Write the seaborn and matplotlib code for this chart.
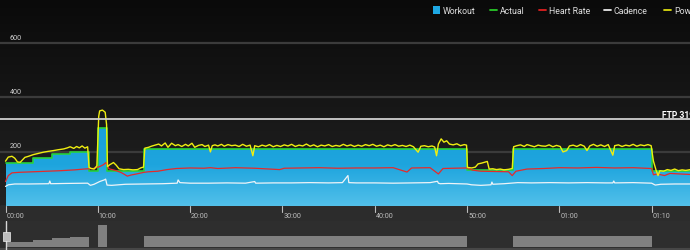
import numpy as np
import pandas as pd
import matplotlib
matplotlib.use("Agg")
import matplotlib.pyplot as plt
from matplotlib.colors import LinearSegmentedColormap
from matplotlib.patches import Rectangle
from matplotlib.lines import Line2D
import seaborn as sns

# ---------------- data ----------------
workout_start_min = [0, 3, 5, 7, 9, 10, 11, 15, 50, 55, 70]
workout_watts = [160, 176, 191, 200, 130, 287, 130, 208, 133, 208, 130]
ride_end_min = 74.2
ftp_watts = 319

power_t = [0, 0.3, 0.7, 1.0, 1.3, 1.6, 1.9, 2.1, 2.5, 3.0, 3.5, 4.1, 4.6, 5.2, 5.7, 6.3, 6.7, 7.0,
           7.4, 7.7, 8.0, 8.3, 8.6, 8.9, 9.05, 9.3, 9.6, 9.9, 10.1, 10.2, 10.5, 10.8, 10.95, 11.05,
           11.3, 11.7, 12.0, 12.3, 12.8, 13.3, 13.8, 14.3, 14.7, 14.95, 15.1, 15.5, 15.8, 16.2, 16.6,
           16.9, 17.3, 17.6, 18.0, 18.4, 18.7, 19.1, 19.5, 19.8, 20.2, 20.5, 20.9, 21.3, 21.6, 22.0,
           22.2, 22.4, 22.7, 23.0, 23.4, 23.7, 24.1, 24.5, 24.9, 25.3, 25.7, 26.1, 26.5, 26.8, 27.0,
           27.4, 27.8, 28.2, 28.6, 29.0, 29.4, 29.8, 30.2, 30.6, 31.0, 31.4, 31.8, 32.2, 32.6, 33.0,
           33.4, 33.8, 34.2, 34.6, 35.0, 35.4, 35.8, 36.2, 36.6, 37.0, 37.4, 37.8, 38.2, 38.6, 39.0,
           39.4, 39.8, 40.2, 40.6, 41.0, 41.4, 41.8, 42.2, 42.6, 43.0, 43.4, 43.8, 44.2, 44.7, 45.0,
           45.4, 45.8, 46.2, 46.5, 46.7, 46.9, 47.2, 47.5, 47.8, 48.1, 48.5, 48.9, 49.3, 49.7, 49.95,
           50.05, 50.5, 50.9, 51.2, 51.6, 51.9, 52.2, 52.4, 52.8, 53.2, 53.6, 54.0, 54.5, 54.9, 55.05,
           55.4, 55.8, 56.2, 56.5, 56.9, 57.3, 57.7, 58.1, 58.5, 58.9, 59.3, 59.7, 60.1, 60.4, 60.8,
           61.1, 61.5, 61.9, 62.3, 62.7, 63.0, 63.3, 63.7, 64.1, 64.5, 64.9, 65.3, 65.8, 66.0, 66.4,
           66.8, 67.2, 67.6, 68.0, 68.4, 68.8, 69.2, 69.6, 69.95, 70.2, 70.5, 70.7, 70.9, 71.3, 71.7,
           72.1, 72.5, 72.9, 73.3, 73.7, 74.2]
power_w = [165, 180, 183, 176, 162, 161, 172, 179, 183, 189, 193, 198, 201, 204, 207, 210, 214, 218,
           212, 219, 214, 221, 213, 218, 142, 138, 136, 148, 330, 350, 353, 345, 300, 145,
           152, 160, 150, 137, 134, 135, 133, 134, 141, 143, 213, 216, 220, 224, 228,
           221, 232, 216, 231, 222, 226, 219, 227, 221, 231, 216, 223, 226, 219, 224,
           199, 222, 225, 221, 227, 220, 226, 222, 224, 219, 227, 220, 224, 185, 222,
           218, 224, 220, 226, 218, 223, 219, 225, 221, 227, 219, 224, 221, 228, 220,
           225, 218, 224, 221, 226, 219, 223, 220, 227, 221, 225, 219, 224, 220, 226,
           222, 227, 220, 224, 218, 225, 221, 226, 220, 223, 219, 224, 218, 198, 220,
           222, 218, 221, 217, 185, 228, 247, 235, 240, 228, 225, 229, 222, 226, 224,
           142, 140, 143, 155, 158, 161, 164, 136, 137, 134, 136, 133, 135, 138, 218,
           222, 225, 219, 226, 222, 218, 224, 221, 220, 225, 218, 223, 219, 199, 204,
           221, 224, 219, 226, 220, 204, 221, 227, 220, 225, 219, 226, 187, 222, 225,
           219, 224, 221, 227, 220, 225, 222, 226, 222, 165, 130, 112, 130, 128, 134,
           131, 136, 130, 133, 131, 134]

hr_t = [0, 0.3, 0.7, 1.5, 3.0, 4.5, 6.0, 7.5, 8.5, 9.5, 10.2, 10.6, 10.9, 11.2, 12.0, 12.6, 13.2,
        13.6, 14.2, 15.0, 15.5, 16.5, 17.5, 18.5, 20, 21.5, 22.2, 23, 24.9, 27, 29.7, 30.2, 32, 34,
        36, 38, 40, 42, 43.5, 44, 46, 46.9, 47.4, 48.5, 50, 50.6, 51.5, 53, 54.5, 54.9, 55.3, 56.5,
        58.3, 60, 62, 64, 66, 68, 70, 70.2, 70.6, 71.4, 72, 73, 74.2]
hr_bpm = [90, 112, 122, 124, 126, 128, 130, 133, 136, 138, 145, 152, 160, 137, 130, 122, 110,
          114, 118, 124, 126, 128, 134, 138, 140, 139, 141, 138, 141, 139, 134, 139, 140, 141,
          139, 140, 140, 141, 125, 140, 141, 118, 138, 139, 140, 132, 128, 127, 126, 112, 128, 136,
          138, 141, 140, 142, 140, 141, 138, 115, 118, 112, 120, 118, 116]

cad_t = [0, 0.3, 1, 2.5, 4.7, 4.8, 4.9, 6.5, 8.9, 9.2, 9.6, 10.2, 10.7, 10.85, 11.0, 11.5, 13, 15,
         17, 18.6, 18.7, 18.9, 20, 22, 24, 26, 27.0, 27.1, 29, 31, 33, 35, 36.5, 37.1, 37.2, 38,
         40, 42, 44, 46, 46.8, 46.9, 47.1, 48, 50, 50.5, 51.5, 52.6, 52.7, 52.8, 54, 55.5, 57, 59,
         61, 63, 65, 65.8, 65.9, 66.0, 68, 70, 70.4, 71, 72.5, 74.2]
cad_rpm = [72, 78, 81, 81, 82, 92, 82, 83, 84, 76, 80, 90, 96, 99, 77, 76, 80, 81,
           82, 84, 96, 86, 84, 84, 85, 84, 90, 84, 85, 85, 86, 85, 86, 112, 86, 85,
           85, 84, 85, 86, 91, 84, 82, 83, 81, 78, 76, 78, 88, 80, 82, 86, 85, 86,
           85, 86, 85, 85, 92, 85, 86, 84, 77, 80, 81, 81]

x_tick_min = [0, 10, 20, 30, 40, 50, 60, 70]
x_tick_labels = ["00:00", "10:00", "20:00", "30:00", "40:00", "50:00", "01:00", "01:10"]
y_tick_vals = [200, 400, 600]
legend_labels = ["Workout", "Actual", "Heart Rate", "Cadence", "Power"]

# ---------------- styling / layout ----------------
sns.set_style("dark")
plt.rcParams["font.family"] = ["Roboto", "DejaVu Sans"]

W, H = 690, 251
fig = plt.figure(figsize=(W / 100, H / 100), dpi=100)
fig.patch.set_facecolor("#2c2c2c")

px_per_min = 9.23
x0_px = 5.5
xmin = -x0_px / px_per_min
xmax = (W - x0_px) / px_per_min
px_per_w = 0.2717
main_bottom_px = 207
ymax = main_bottom_px / px_per_w

ax = fig.add_axes([0, (H - main_bottom_px) / H, 1, main_bottom_px / H])
ax.set_facecolor("#1c1c1c")
for s in ax.spines.values():
    s.set_visible(False)

# background gradient
bg_cmap = LinearSegmentedColormap.from_list("bg", ["#232323", "#0a0a0a"])
grad = np.linspace(0, 1, 256).reshape(-1, 1)
ax.imshow(grad, extent=[xmin, xmax, 0, ymax], origin="lower", cmap=bg_cmap,
          aspect="auto", zorder=0)

# gridlines
for v in y_tick_vals:
    ax.axhline(v, color="#3b3b3b", lw=1.6, zorder=1)
    ax.text(9.5 / px_per_min + xmin, v + 22, str(v), color="#d0d0d0", fontsize=5.2,
            va="center", ha="left", zorder=6)

# workout profile (step)
wt = list(workout_start_min) + [ride_end_min]
ww = list(workout_watts) + [workout_watts[-1]]
poly = ax.fill_between(wt, 0, ww, step="post", color="none", lw=0)
fill_cmap = LinearSegmentedColormap.from_list("fill", ["#52c0ea", "#1ea5de", "#1a9fda"])
grad2 = np.linspace(0, 1, 256).reshape(-1, 1)
im = ax.imshow(grad2, extent=[0, ride_end_min, 0, 300], origin="lower", cmap=fill_cmap,
               aspect="auto", zorder=2)
im.set_clip_path(poly.get_paths()[0], transform=ax.transData)
ax.plot(wt, ww, drawstyle="steps-post", color="#27d33a", lw=1.2, zorder=3)

# lines via seaborn
df_cad = pd.DataFrame({"t": cad_t, "v": cad_rpm})
df_hr = pd.DataFrame({"t": hr_t, "v": hr_bpm})
df_pw = pd.DataFrame({"t": power_t, "v": power_w})
sns.lineplot(data=df_cad, x="t", y="v", ax=ax, color="#eef4f8", lw=0.9, estimator=None,
             sort=False, zorder=4)
sns.lineplot(data=df_hr, x="t", y="v", ax=ax, color="#e52b2b", lw=0.9, estimator=None,
             sort=False, zorder=4)
sns.lineplot(data=df_pw, x="t", y="v", ax=ax, color="#f0ee10", lw=1.0, estimator=None,
             sort=False, zorder=5)

# FTP line
ax.axhline(ftp_watts, color="#cfcfcf", lw=1.3, zorder=5)
ax.text(662 / px_per_min + xmin, ftp_watts + 3, f"FTP {ftp_watts}", color="white",
        fontsize=6.2, fontweight="bold", va="bottom", ha="left", zorder=6)

# bottom edge line
ax.axhline(0.8, color="#7fd3f2", lw=0.8, zorder=5)

ax.set_xlim(xmin, xmax)
ax.set_ylim(0, ymax)
ax.set_xlabel("")
ax.set_ylabel("")
ax.set_xticks([])
ax.set_yticks([])
ax.grid(False)

# x ticks (drawn in figure space below the main axes)
for tm, lab in zip(x_tick_min, x_tick_labels):
    xf = (x0_px + tm * px_per_min) / W
    fig.add_artist(Line2D([xf, xf], [(H - 207) / H, (H - 213) / H], color="#bdbdbd", lw=0.8))
    fig.text(xf + 1 / W, (H - 216.5) / H, lab, color="#bdbdbd", fontsize=5.2,
             ha="left", va="center")

# overview strip
ov_h = 29
ax2 = fig.add_axes([0, 0, 1, ov_h / H])
ax2.set_facecolor("#2e2e2e")
for s in ax2.spines.values():
    s.set_visible(False)
ov_scale = 0.136
ov_base = 125
ax2.set_ylim(ov_base - 3 / ov_scale, ov_base + 26 / ov_scale)
ov_vals = [v if v > 140 else ov_base for v in ww]
ax2.fill_between(wt, ov_base, ov_vals, step="post", color="#808080", lw=0)
ax2.axhline(ov_base - 1.5 / ov_scale, color="#474747", lw=1.5)
ax2.axvline(0, color="#d8d8d8", lw=1.0)
ax2.add_patch(Rectangle((-2.5 / px_per_min, ov_base + 6 / ov_scale), 7 / px_per_min,
                        9 / ov_scale, facecolor="#bcbcbc", edgecolor="#eeeeee", lw=0.5,
                        zorder=5))
ax2.set_xlim(xmin, xmax)
ax2.set_xticks([])
ax2.set_yticks([])
ax2.grid(False)

# legend (manual, top right)
ly = 1 - 11 / H
fig.add_artist(Rectangle((433 / W, 1 - 15 / H), 7 / W, 8 / H, facecolor="#1ea8e4",
                         edgecolor="none", transform=fig.transFigure))
fig.text(443 / W, ly, legend_labels[0], color="#dcdcdc", fontsize=6.3, va="center", ha="left")
legend_items = [(490, 500, "#28c828", legend_labels[1]),
                (539, 549, "#e02020", legend_labels[2]),
                (604, 614, "#e8e8e8", legend_labels[3]),
                (664, 674, "#dcdc10", legend_labels[4])]
for x_line, x_txt, col, lab in legend_items:
    fig.add_artist(Line2D([x_line / W, (x_line + 7) / W], [ly, ly], color=col, lw=1.3))
    fig.text(x_txt / W, ly, lab, color="#dcdcdc", fontsize=6.3, va="center", ha="left")

fig.savefig("out.png", dpi=100, facecolor=fig.get_facecolor())
